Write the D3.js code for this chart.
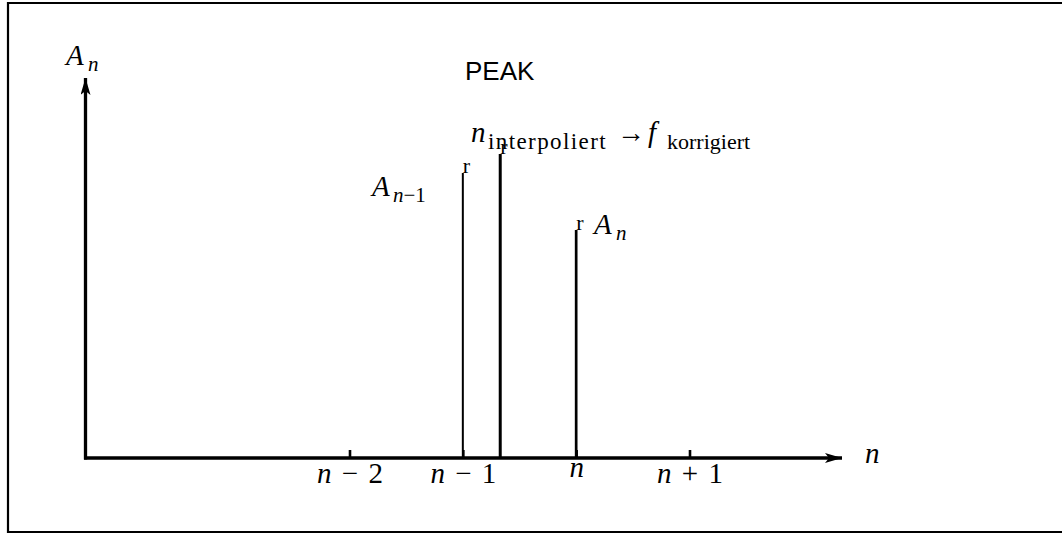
<!DOCTYPE html>
<html>
<head>
<meta charset="utf-8">
<script src="https://cdn.jsdelivr.net/npm/d3@7"></script>
<style>
  html, body { margin: 0; background: #fff; overflow: hidden; }
</style>
</head>
<body>
<div id="vis"></div>
<script>
// spectrum lines around the peak (bin index relative to n)
var tickValues   = [-2, -1, 0, 1];
var tickLabels   = ['n − 2', 'n − 1', 'n', 'n + 1'];
var barPositions = [-1, -0.67, 0];
var barValues    = [7.5, 8.0, 6.0];
var barMarks     = ['r', 'r', 'r'];

var width  = 1062;
var height = 533;
var mathFont = '"Liberation Serif", "Times New Roman", serif';

var svg = d3.select('#vis')
  .append('svg')
  .attr('width', width)
  .attr('height', height)
  .style('display', 'block');

var defs = svg.append('defs');
defs.append('marker')
  .attr('id', 'arrow')
  .attr('viewBox', '0 0 17 10')
  .attr('refX', 17)
  .attr('refY', 5)
  .attr('markerUnits', 'userSpaceOnUse')
  .attr('markerWidth', 17)
  .attr('markerHeight', 10)
  .attr('orient', 'auto')
  .append('path')
  .attr('d', 'M0,0 L17,5 L0,10 L4,5 Z')
  .attr('fill', '#000');

// frame (open on the right)
svg.append('path')
  .attr('d', 'M' + (width + 5) + ',3 L8,3 L8,532 L' + (width + 5) + ',532')
  .attr('fill', 'none')
  .attr('stroke', '#000')
  .attr('stroke-width', 2.2);

var xScale = d3.scaleLinear()
  .domain([-2, 1])
  .range([349.5, 689.5]);

var yScale = d3.scaleLinear()
  .domain([0, 10])
  .range([458, 78]);

var x0 = 85.5;
var xEnd = 842;

// axes
svg.append('line')
  .attr('x1', x0 - 1.5).attr('y1', yScale(0))
  .attr('x2', xEnd).attr('y2', yScale(0))
  .attr('stroke', '#000')
  .attr('stroke-width', 3.3)
  .attr('marker-end', 'url(#arrow)');

svg.append('line')
  .attr('x1', x0).attr('y1', yScale(0) + 1.6)
  .attr('x2', x0).attr('y2', yScale(10))
  .attr('stroke', '#000')
  .attr('stroke-width', 3.3)
  .attr('marker-end', 'url(#arrow)');

var xAxis = d3.axisBottom(xScale)
  .tickValues(tickValues)
  .tickSizeInner(-8)
  .tickSizeOuter(0)
  .tickPadding(0)
  .tickFormat(function(d, i) { return tickLabels[i]; });

var axisG = svg.append('g')
  .attr('class', 'x axis')
  .attr('transform', 'translate(0,' + yScale(0) + ')')
  .call(xAxis);

axisG.select('.domain').remove();
axisG.selectAll('.tick line')
  .attr('stroke', '#000')
  .attr('stroke-width', 2.6);

axisG.selectAll('.tick text')
  .each(function(d, i) {
    var label = tickLabels[i];
    var t = d3.select(this)
      .text(null)
      .attr('dy', null)
      .attr('y', label.length === 1 ? 19 : 25)
      .attr('fill', '#000')
      .style('font-family', mathFont)
      .style('font-size', '29px')
      .style('word-spacing', '3px');
    t.append('tspan').style('font-style', 'italic').text(label.charAt(0));
    if (label.length > 1) t.append('tspan').text(label.slice(1));
  });

// spectral lines
var bars = svg.append('g').attr('class', 'bars');
bars.selectAll('line')
  .data(barValues)
  .enter()
  .append('line')
  .attr('x1', function(d, i) { return xScale(barPositions[i]); })
  .attr('x2', function(d, i) { return xScale(barPositions[i]); })
  .attr('y1', yScale(0))
  .attr('y2', function(d) { return yScale(d); })
  .attr('stroke', '#000')
  .attr('stroke-width', function(d, i) { return i === 1 ? 3 : (i === 0 ? 2 : 2.7); });

bars.selectAll('text')
  .data(barValues)
  .enter()
  .append('text')
  .attr('x', function(d, i) { return xScale(barPositions[i]); })
  .attr('y', function(d) { return yScale(d); })
  .style('font-family', mathFont)
  .style('font-size', '22px')
  .text(function(d, i) { return barMarks[i]; });

// math labels
function mathLabel(x, y, main, subX) {
  var t = svg.append('text')
    .attr('x', x).attr('y', y)
    .style('font-family', mathFont)
    .style('font-size', '29px');
  t.append('tspan').style('font-style', 'italic').text(main);
  return t.append('tspan')
    .attr('x', subX)
    .attr('dy', 6)
    .style('font-size', '21px');
}

mathLabel(66, 65, 'A', 88).style('font-style', 'italic').text('n');

var s1 = mathLabel(372, 196, 'A', 393);
s1.append('tspan').style('font-style', 'italic').text('n');
s1.append('tspan').text('−1');

mathLabel(594, 234, 'A', 616).style('font-style', 'italic').text('n');

svg.append('text')
  .attr('x', 865).attr('y', 463)
  .style('font-family', mathFont)
  .style('font-size', '29px')
  .style('font-style', 'italic')
  .text('n');

// n_interpoliert -> f_korrigiert
var ann = svg.append('text')
  .attr('x', 471).attr('y', 142)
  .style('font-family', mathFont)
  .style('font-size', '29px');
ann.append('tspan').style('font-style', 'italic').text('n');
ann.append('tspan').attr('x', 488).attr('dy', 7)
  .style('font-size', '23px')
  .style('letter-spacing', '1.4px')
  .text('interpoliert');
ann.append('tspan').attr('x', 617).attr('dy', -7)
  .style('font-size', '28px').text('→');
ann.append('tspan').attr('x', 648).style('font-style', 'italic').text('f');
ann.append('tspan').attr('x', 667).attr('dy', 7)
  .style('font-size', '22px').text('korrigiert');

// title
svg.append('text')
  .attr('x', 465).attr('y', 80)
  .style('font-family', '"Liberation Sans", Arial, sans-serif')
  .style('font-size', '26px')
  .text('PEAK');
</script>
</body>
</html>
